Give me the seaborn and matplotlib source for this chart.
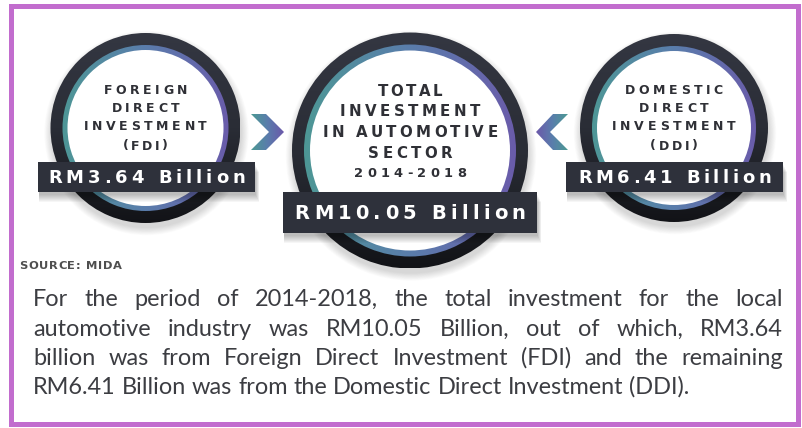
import numpy as np
import matplotlib
matplotlib.use("Agg")
import matplotlib.pyplot as plt
from matplotlib import font_manager
from matplotlib.patches import Circle, Wedge, Rectangle, Polygon
import seaborn as sns

# data
titles = [
    ["FOREIGN", "DIRECT", "INVESTMENT", "(FDI)"],
    ["TOTAL", "INVESTMENT", "IN AUTOMOTIVE", "SECTOR", "2014-2018"],
    ["DOMESTIC", "DIRECT", "INVESTMENT", "(DDI)"],
]
amounts = [3.64, 10.05, 6.41]
period = "2014-2018"
source = "SOURCE: MIDA"

fdi, total, ddi = amounts
paragraph = [
    f"For the period of {period}, the total investment for the local",
    f"automotive industry was RM{total:.2f} Billion, out of which, RM{fdi:.2f}",
    "billion was from Foreign Direct Investment (FDI) and the remaining",
    f"RM{ddi:.2f} Billion was from the Domestic Direct Investment (DDI).",
]

W, H = 803, 428
PX = 72 / 100  # points per pixel at dpi 100

TEAL, BLUE, PURPLE = "#4C9A93", "#5A7DAC", "#6C58AA"
DARK = "#2E313B"
grad_cmap = sns.blend_palette([TEAL, BLUE, PURPLE], as_cmap=True)
dark_cmap = sns.blend_palette(["#343742", "#2A2D36", "#121317"], as_cmap=True)

sns.set_theme(style="white")
fig = plt.figure(figsize=(W / 100, H / 100), dpi=100)
ax = fig.add_axes([0, 0, 1, 1])
ax.axis("off")
renderer = fig.canvas.get_renderer()

_cache = {}


def text_w(s, size, weight="bold", family="DejaVu Sans", stretch="normal"):
    key = (s, size, weight, family, stretch)
    if key not in _cache:
        t = ax.text(0, 0, s, fontsize=size * PX, fontweight=weight, family=family,
                    fontstretch=stretch)
        _cache[key] = t.get_window_extent(renderer).width
        t.remove()
    return _cache[key]


def spaced(xc, yc, s, width, size, color, weight="bold", family="DejaVu Sans", z=10):
    base = text_w("HH", size, weight, family)
    ws = [text_w("H" + c + "H", size, weight, family) - base for c in s]
    track = (width - sum(ws)) / max(len(s) - 1, 1)
    x = xc - width / 2
    yb = yc + 0.36 * size
    for c, w in zip(s, ws):
        ax.text(x, yb, c, fontsize=size * PX, fontweight=weight, family=family,
                color=color, ha="left", va="baseline", zorder=z)
        x += w + track


def grad_fill(patch, extent, cmap, vertical=False, z=3):
    patch.set_transform(ax.transData)
    g = np.linspace(0, 1, 256)
    arr = g[:, None] if vertical else g[None, :]
    im = ax.imshow(arr, cmap=cmap, extent=extent, aspect="auto",
                   interpolation="bilinear", zorder=z)
    im.set_clip_path(patch)


def badge(cx, cy, r, dark_w, grad_w):
    for k in range(10):
        ax.add_patch(Circle((cx + 1, cy + 5), r + k * 0.8, color="black",
                            alpha=0.015, lw=0, zorder=1))
    ext = (cx - r, cx + r, cy + r, cy - r)
    grad_fill(Wedge((cx, cy), r, 0, 360, width=dark_w + 1), ext, dark_cmap, vertical=True, z=2)
    grad_fill(Wedge((cx, cy), r - dark_w, 0, 360, width=grad_w + 1), ext, grad_cmap, z=3)
    ax.add_patch(Circle((cx, cy), r - dark_w - grad_w, color="white", lw=0, zorder=4))


def label_box(x0, x1, y0, y1):
    for k in range(8):
        ax.add_patch(Rectangle((x0 + 1, y0 + 3 + k), x1 - x0 + k * 0.5, y1 - y0,
                               color="black", alpha=0.035, lw=0, zorder=5))
    ax.add_patch(Rectangle((x0, y0), x1 - x0, y1 - y0, color=DARK, lw=0, zorder=6))


# circles: (cx, cy, r, dark ring, gradient ring)
circles = [(145.5, 128, 95, 12, 5), (410, 150.5, 118, 12, 6), (674, 128, 94, 12, 5)]
boxes = [(38, 255, 162, 192), (283, 537, 192, 233), (566, 783, 162, 192)]
title_y = [[89.3, 107.7, 126, 145], [90.7, 110.7, 131.7, 152.3, 172.3], [89.3, 107.7, 126, 145]]
title_w = [[84, 68, 123, 45], [65, 140, 175, 84, 112], [98, 70, 124, 48]]
title_size = [[12.5] * 4, [15, 15, 15, 15, 13], [12.5] * 4]
value_y = [177, 212, 177]
value_w = [197, 231, 193]
value_size = [18, 19.5, 18]

for i in range(3):
    cx, cy, r, dw, gw = circles[i]
    badge(cx, cy, r, dw, gw)
    for s, y, w, sz in zip(titles[i], title_y[i], title_w[i], title_size[i]):
        spaced(cx, y, s, w, sz, "#2F3036")
    x0, x1, y0, y1 = boxes[i]
    label_box(x0, x1, y0, y1)
    spaced((x0 + x1) / 2, value_y[i], f"RM{amounts[i]:.2f} Billion", value_w[i],
           value_size[i], "white")

# chevrons
left_chev = [(251, 114), (266, 114), (284, 132), (266, 150), (251, 150), (269, 132)]
right_chev = [(568, 114), (553, 114), (536, 132), (553, 150), (568, 150), (550, 132)]
grad_fill(Polygon(left_chev, closed=True), (251, 284, 150, 114), grad_cmap)
grad_fill(Polygon(right_chev, closed=True), (536, 568, 150, 114), grad_cmap.reversed())

# source
spaced(70.5, 265, source, 103, 11.5, "#4F4F4F")

# pick the narrowest installed body font
condensed = any(f.name == "DejaVu Sans" and f.stretch == "condensed"
                for f in font_manager.fontManager.ttflist)
candidates = [("Lato", "normal"), ("Roboto", "normal")]
if condensed:
    candidates.append(("DejaVu Sans", "condensed"))
x_left, x_right = 33, 783
psize = 23.5
SPACE_FIT = 0.7


def natural(line, fam, st, size, k=1.0):
    words = line.split()
    sp = text_w("a a", size, "normal", fam, st) - text_w("aa", size, "normal", fam, st)
    return sum(text_w(w, size, "normal", fam, st) for w in words) + k * sp * (len(words) - 1)


PF, PS = min(candidates, key=lambda c: max(natural(l, c[0], c[1], psize) for l in paragraph))
longest = max(natural(l, PF, PS, psize, SPACE_FIT) for l in paragraph[:-1])
if longest > (x_right - x_left):
    psize *= (x_right - x_left) / longest

# paragraph, justified
sp = text_w("a a", psize, "normal", PF, PS) - text_w("aa", psize, "normal", PF, PS)
baselines = [306, 336, 365, 394]
for n, (line, yb) in enumerate(zip(paragraph, baselines)):
    words = line.split()
    ws = [text_w(w, psize, "normal", PF, PS) for w in words]
    last = n == len(paragraph) - 1
    gap = sp if last else (x_right - x_left - sum(ws)) / (len(words) - 1)
    x = x_left
    for w, wd in zip(words, ws):
        ax.text(x, yb, w, fontsize=psize * PX, fontweight="normal", family=PF,
                fontstretch=PS, color="#3C3D42", ha="left", va="baseline", zorder=10)
        x += wd + gap

# frame
ax.add_patch(Rectangle((11, 5.5), 787.5, 418.5, fill=False, ec="#C26DCE",
                       lw=5 * PX, zorder=20))

ax.set_xlim(0, W)
ax.set_ylim(H, 0)
fig.savefig("out.png", dpi=100, facecolor="white")
